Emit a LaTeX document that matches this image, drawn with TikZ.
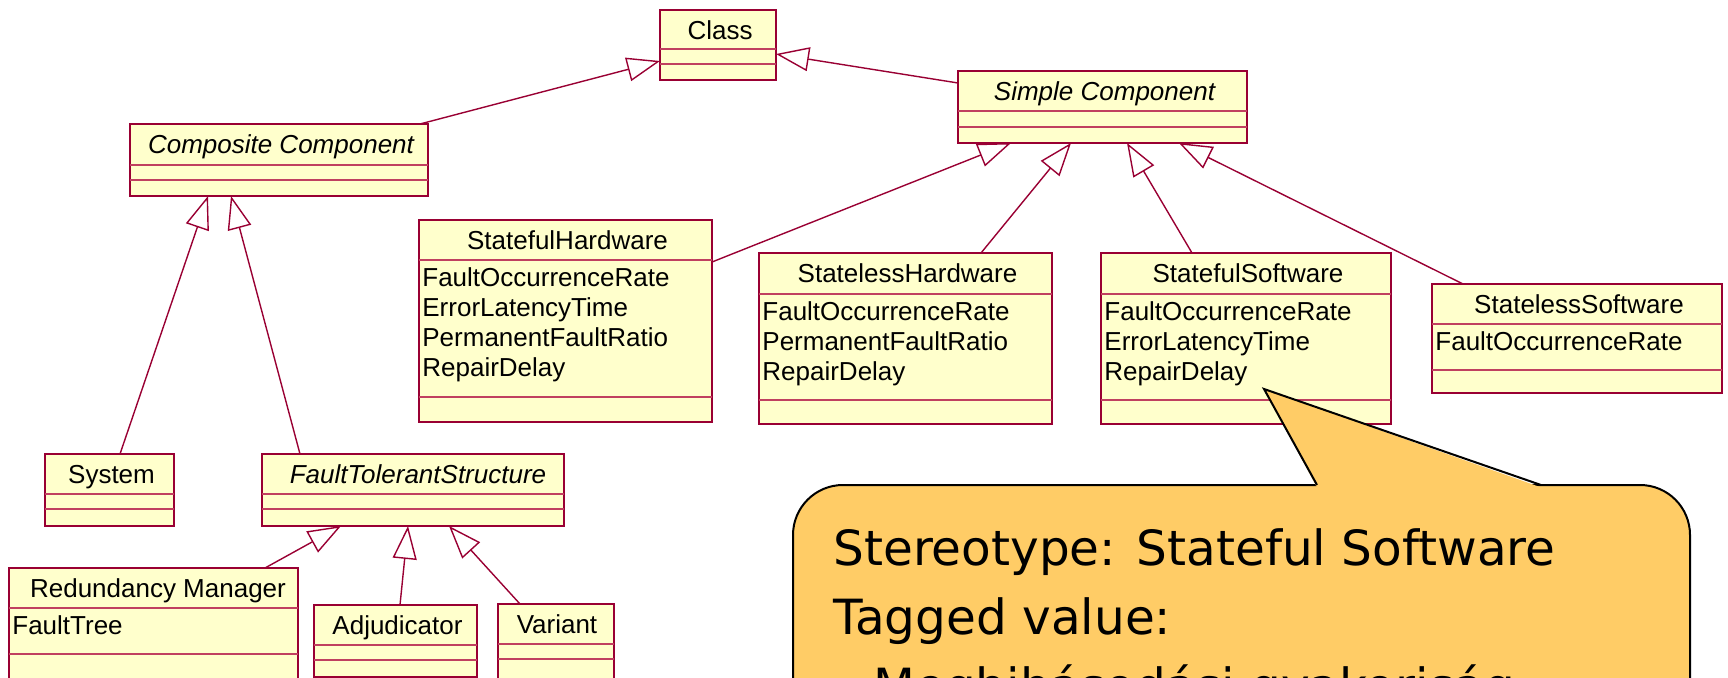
\documentclass[tikz,border=0pt]{standalone}
\usepackage{fontspec}
\setmainfont{Liberation Sans}
\newfontfamily\notefont{DejaVu Sans}
\usetikzlibrary{arrows.meta,fit,calc}
\definecolor{umlline}{HTML}{990033}
\definecolor{umlsep}{HTML}{C04060}
\definecolor{umlfill}{HTML}{FFFFCC}
\definecolor{notefill}{HTML}{FFCC66}
\newcommand\umlbox[6]{%
  \node[cls, fit={(#2,#3) (#4,#5)}] (#1) {};
  \foreach \yy in {#6} {\draw[sepline] (#2,\yy) -- (#4,\yy);}
}
\begin{document}
\begin{tikzpicture}[x=0.5pt,y=-0.5pt,
  cls/.style={draw=umlline, fill=umlfill, line width=1pt, inner sep=0pt, outer sep=0pt},
  sepline/.style={draw=umlsep, line width=0.7pt},
  gen/.style={draw=umlline, line width=0.7pt, -{Triangle[open, length=16.5pt, width=12pt]}},
  ttl/.style={anchor=base, inner sep=0pt, font=\fontsize{13pt}{15pt}\selectfont},
  ttli/.style={anchor=base, inner sep=0pt, font=\fontsize{13pt}{15pt}\selectfont\itshape},
  attr/.style={anchor=base west, inner sep=0pt, font=\fontsize{13pt}{15pt}\selectfont},
  notebox/.style={draw=black, fill=notefill, line width=1pt, rounded corners=25pt, inner sep=0pt, outer sep=0pt},
  notetxt/.style={anchor=base west, inner sep=0pt, font=\notefont\fontsize{24.25pt}{29pt}\selectfont}
]
\useasboundingbox (0,0) rectangle (1728,678);
\clip (0,0) rectangle (1728,678);

% class boxes
\umlbox{cClass}{660}{10}{776}{80}{49,64}
\umlbox{cComp}{130}{124}{428}{196}{165,180}
\umlbox{cSimple}{958}{71}{1247}{143}{111,127}
\umlbox{cSFH}{419}{220}{712}{422}{260,397}
\umlbox{cSLH}{759}{253}{1052}{424}{294,400}
\umlbox{cSFS}{1101}{253}{1391}{424}{294,400}
\umlbox{cSLS}{1432}{284}{1722}{393}{324,370}
\umlbox{cSystem}{45}{454}{174}{526}{494,509}
\umlbox{cFTS}{262}{454}{564}{526}{494,509}
\umlbox{cRM}{9}{568}{298}{720}{608,654}
\umlbox{cAdj}{314}{605}{477}{677}{645,660}
\umlbox{cVar}{498}{604}{614}{720}{644,659}

% titles
\node[ttl] (tClass) at (720,39.5) {Class};
\node[ttli] (tComp) at (281,153.5) {Composite Component};
\node[ttli] (tSimple) at (1104.5,100.5) {Simple Component};
\node[ttl] (tSFH) at (567.5,249.5) {StatefulHardware};
\node[ttl] (tSLH) at (907.5,282.5) {StatelessHardware};
\node[ttl] (tSFS) at (1248,282.5) {StatefulSoftware};
\node[ttl] (tSLS) at (1579,313.5) {StatelessSoftware};
\node[ttl] (tSystem) at (111.5,483.5) {System};
\node[ttli] (tFTS) at (418,483.5) {FaultTolerantStructure};
\node[ttl] (tRM) at (158,597.5) {Redundancy Manager};
\node[ttl] (tAdj) at (397.5,634.5) {Adjudicator};
\node[ttl] (tVar) at (557,633.5) {Variant};

% attributes
\node[attr] (aSFH1) at (422,287) {FaultOccurrenceRate};
\node[attr] (aSFH2) at (422,317) {ErrorLatencyTime};
\node[attr] (aSFH3) at (422,347) {PermanentFaultRatio};
\node[attr] (aSFH4) at (422,377) {RepairDelay};
\node[attr] (aSLH1) at (762,320.5) {FaultOccurrenceRate};
\node[attr] (aSLH2) at (762,350.5) {PermanentFaultRatio};
\node[attr] (aSLH3) at (762,380.5) {RepairDelay};
\node[attr] (aSFS1) at (1104,320.5) {FaultOccurrenceRate};
\node[attr] (aSFS2) at (1104,350.5) {ErrorLatencyTime};
\node[attr] (aSFS3) at (1104,380.5) {RepairDelay};
\node[attr] (aSLS1) at (1435,350.5) {FaultOccurrenceRate};
\node[attr] (aRM1) at (12,634.5) {FaultTree};

% generalizations
\draw[gen] ([xshift=-4pt]cComp.north east) -- ([yshift=-8pt]cClass.west);
\draw[gen] ([yshift=-6pt]cSimple.north west) -- ([yshift=-4.5pt]cClass.east);
\draw[gen] ([yshift=-21pt]cSFH.north east) -- ([xshift=26.5pt]cSimple.south west);
\draw[gen] ([xshift=37.75pt]cSLH.north) -- ([xshift=56.5pt]cSimple.south west);
\draw[gen] ([xshift=-27pt]cSFS.north) -- ([xshift=84.5pt]cSimple.south west);
\draw[gen] ([xshift=15.5pt]cSLS.north west) -- ([xshift=110.5pt]cSimple.south west);
\draw[gen] ([xshift=37.5pt]cSystem.north west) -- ([xshift=39pt]cComp.south west);
\draw[gen] ([xshift=19pt]cFTS.north west) -- ([xshift=50.5pt]cComp.south west);
\draw[gen] ([xshift=128pt]cRM.north west) -- ([xshift=39.5pt]cFTS.south west);
\draw[gen] ([xshift=43pt]cAdj.north west) -- ([xshift=73pt]cFTS.south west);
\draw[gen] ([xshift=11pt]cVar.north west) -- ([xshift=93.5pt]cFTS.south west);

% note callout
\node[notebox, fit={(793,485) (1690,840)}] (note) {};
\coordinate (tip) at (1264,389);
\fill[notefill] ([xshift=262pt,yshift=-1.2pt]note.north west) -- (tip) -- ([xshift=374pt,yshift=-1.2pt]note.north west) -- cycle;
\draw[black, line width=1pt] ([xshift=262pt]note.north west) -- (tip) -- ([xshift=374pt]note.north west);
\node[notetxt] (n1) at (833,565) {Stereotype: Stateful Software};
\node[notetxt] (n2) at (833,634) {Tagged value:};
\node[notetxt] (n3) at (873,703) {Meghibásodási gyakoriság};
\end{tikzpicture}
\end{document}
